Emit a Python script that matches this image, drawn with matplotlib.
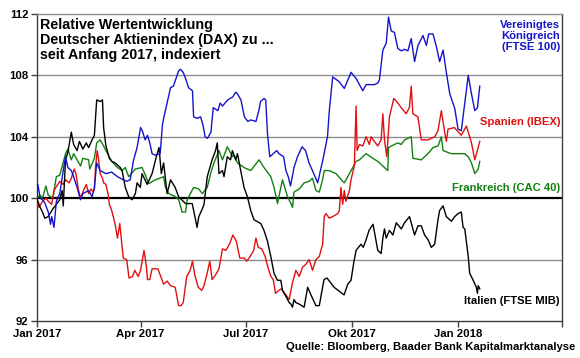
import matplotlib
matplotlib.use("Agg")
import matplotlib.pyplot as plt

plt.rcParams['font.family'] = ['Liberation Sans', 'DejaVu Sans']
plt.rcParams['font.weight'] = 'bold'

# x values: days since 2017-01-01
tick_days = [0, 90, 181, 273, 365, 455]
tick_labels = ["Jan 2017", "Apr 2017", "Jul 2017", "Okt 2017", "Jan 2018", ""]
y_ticks = [92, 96, 100, 104, 108, 112]

uk_days = [0, 1, 3, 5, 7, 10, 12, 13, 15, 17, 20, 23, 25, 27, 30, 32, 35, 38, 40, 45, 48, 50, 52, 55,
           60, 65, 70, 75, 78, 81, 84, 87, 90, 91.5, 94, 96, 98, 100, 103, 107, 109, 110, 116, 118.5,
           123, 124.6, 127, 129, 131.6, 135, 136, 139, 142, 144, 146, 148, 151, 153, 157, 159, 161,
           165.5, 170, 172.4, 174, 177, 180, 183, 185.5, 190, 192.5, 194, 197, 198.5, 200, 202, 205,
           208, 210, 214, 216, 218, 220, 223, 226, 230, 233, 236, 239, 243.5, 248, 252, 253.6, 256.5,
           262, 266.6, 272.4, 276.8, 282.6, 285.5, 292.7, 295.6, 297, 300, 302.9, 304.9, 307.2, 310,
           313, 316, 318.8, 321.7, 324.6, 327.5, 330.4, 334.8, 337.7, 339.7, 343.5, 346.3, 349.2,
           352.2, 355, 358, 362.3, 365.2, 368, 371, 374, 376.8, 379.7, 382, 384]
uk_vals = [100.0, 100.9, 100.0, 99.9, 99.7, 99.1, 98.3, 98.8, 98.1, 99.8, 100.3, 101.8, 102.7, 102.0,
           101.8, 101.4, 100.7, 99.9, 100.3, 100.5, 100.1, 100.7, 102.3, 101.8, 101.6, 101.7, 101.4,
           101.2, 101.1, 101.2, 102.5, 103.3, 104.6, 104.4, 103.8, 104.1, 103.6, 102.9, 102.8, 102.9,
           104.8, 105.2, 107.2, 107.3, 108.3, 108.4, 108.2, 107.8, 107.2, 107.0, 105.3, 105.2, 105.3,
           104.8, 104.0, 103.9, 104.3, 105.9, 105.7, 106.2, 106.0, 106.4, 106.6, 106.9, 106.8, 106.4,
           105.3, 105.0, 105.1, 105.0, 105.7, 106.3, 106.5, 106.4, 104.2, 102.7, 102.9, 103.1, 102.9,
           102.7, 101.8, 101.4, 100.8, 102.0, 102.7, 103.35, 103.1, 102.3, 101.8, 101.0, 102.5, 104.0,
           105.7, 107.9, 107.6, 107.15, 108.2, 107.8, 107.0, 107.4, 107.4, 107.5, 107.7, 109.65, 110.1,
           111.8, 110.9, 110.8, 109.75, 109.6, 109.7, 109.6, 110.4, 108.9, 109.95, 110.6, 109.95,
           110.7, 110.7, 109.9, 108.9, 109.65, 108.2, 106.8, 105.85, 104.5, 104.4, 106.2, 108.0, 106.8,
           105.7, 105.9, 107.3]

es_days = [0, 2, 5, 8, 10, 13, 15, 20, 23, 25, 28, 30, 32.5, 34, 36, 38, 40, 43, 45, 47, 49, 50, 51,
           52.4, 53.5, 55, 57, 58, 60, 62, 63, 65, 68, 70, 72, 75, 78, 80, 83, 85, 88, 90, 93, 95, 96,
           98, 100, 105, 107, 110, 113, 116,
           120, 123, 125, 127, 130, 133, 135, 137, 140, 143, 145, 148, 150, 152, 155, 158, 161, 164,
           167, 170, 173, 176, 180, 182, 185, 188, 190, 192, 195, 198, 200, 203, 205, 207, 210, 212,
           215, 218.8, 221.7, 224.6, 227.5, 230.4, 233.3, 236.2, 239, 242, 244.9, 247.8, 249.2, 250.7,
           253.6, 256.5, 260.9, 262.3, 263.7, 265.2, 266.6, 268, 271, 272.4, 275.3, 276.8, 277.7,
           279.7, 282.6, 285.5, 288.3, 289.8, 292.7, 295.6, 298.5, 300, 301.4, 303.4, 305.7, 309.5,
           313, 315.9, 320.2, 323, 324.6, 326, 330.4, 333.3, 339, 345, 347.8, 350.7, 353.6, 355,
           356.5, 362, 368, 372.4, 376.8, 379.7, 384]
es_vals = [100.0, 99.4, 99.8, 100.0, 99.8, 99.6, 100.5, 101.1, 100.9, 101.2, 101.0, 101.3, 101.9,
           101.6, 100.6, 100.0, 100.4, 100.9, 100.3, 100.6, 100.4, 100.6, 102.0, 103.1, 102.6, 101.6,
           101.3, 101.0, 100.9, 100.2, 99.6, 99.2, 98.3,
           97.4, 98.35, 96.1, 96.0, 94.8, 94.9, 95.3, 94.9, 95.3, 96.6, 95.6, 94.7, 94.7, 95.4, 95.4,
           95.0, 94.4, 94.6, 94.3, 94.2, 93.0, 93.0, 93.2, 94.9, 95.3, 95.9, 95.0, 94.2, 94.0, 94.3,
           95.2, 95.9, 94.7, 95.0, 95.4, 96.7, 96.6, 97.0, 97.6, 97.2, 96.1, 96.1, 95.9, 96.2, 96.6,
           97.4, 96.8, 96.7, 96.2, 95.6, 94.9, 94.7, 93.8, 94.0, 94.1, 93.8, 93.4, 94.5, 95.3, 94.9,
           95.5, 95.7, 96.0, 95.3, 96.0, 96.2, 97.0, 98.8, 99.0, 98.7, 98.8, 99.0, 99.2, 100.7, 99.6,
           100.5, 99.8, 100.5, 101.2, 102.1, 106.0, 103.1, 103.5, 103.4, 104.0, 103.5, 104.0, 103.7,
           103.4, 103.8, 105.5, 103.8, 102.7, 105.3, 106.5, 106.2, 105.9, 105.5, 105.9, 107.3, 105.5,
           105.3, 103.8, 103.8, 104.0, 104.4, 105.7, 104.3, 103.7, 104.5, 104.6, 104.1, 104.7, 103.6,
           102.5, 103.7]

fr_days = [0, 3, 5, 8, 10, 14, 17, 20, 25, 27, 30, 32, 35, 38, 40, 45, 46, 50, 52, 55, 58, 60, 65, 70,
           74, 76.8, 79.7, 85.5, 91.3, 94.2, 97, 102.9, 110, 111.6, 114.4, 120.3, 123, 126, 129, 130.4,
           136, 140.5, 143.5, 147.8, 150.7, 153.6, 158, 161, 165.2, 169.6, 171, 174, 179.7, 185.5,
           192.7, 197, 202.9, 205.7, 208.7, 213, 217.4, 220.3, 221.7, 223, 227.5, 231.8, 236.2, 239,
           242, 244.9, 247.8, 249.2, 253.6, 259.4, 265.2, 266.6, 271, 274, 276.8, 279.7, 282.6, 285.5,
           291.3, 295.6, 301.4, 304.3, 304.9, 310, 313, 316, 318.8, 324.6, 326, 333.3, 339.1, 343.5,
           347.8, 350.7, 352.2, 359.4, 371, 374, 376.8, 379.7, 382.6, 384]
fr_vals = [100.0, 100.2, 100.0, 100.8, 100.2, 100.0, 101.4, 101.5, 102.9, 103.2, 102.5, 102.9, 102.5,
           102.1, 102.6, 102.5, 101.9, 102.6, 103.6, 103.8, 103.4, 103.1, 102.4, 102.0, 101.8, 102.0,
           101.4, 101.9, 102.0, 101.5, 100.95, 101.2, 101.4, 100.7, 100.3, 100.1, 99.9, 99.1, 99.1,
           99.9, 100.7, 100.6, 100.3, 100.7, 101.6, 102.3, 103.1, 102.5, 103.35, 102.7, 102.8, 102.3,
           102.0, 101.8, 102.5, 102.0, 101.4, 100.7, 99.65, 101.2, 100.1, 99.65, 99.4, 100.4, 100.6,
           101.0, 101.1, 101.3, 100.5, 100.4, 101.2, 101.8, 101.8, 101.6, 101.1, 101.0, 101.6, 102.0,
           102.4, 102.5, 102.7, 102.9, 102.6, 102.4, 102.0, 101.8, 103.3, 103.5, 103.6, 103.5, 103.8,
           104.0, 102.6, 102.5, 102.9, 103.3, 103.4, 104.0, 103.1, 102.9, 102.9, 102.7, 102.3, 101.6,
           101.9, 102.4]

it_days = [0, 3, 5, 7, 10, 14, 17, 20, 22, 23, 25, 27, 30, 32, 35, 37, 40, 43, 45, 48, 50, 52, 55, 57,
           58, 60, 63, 65, 68, 72.4, 74, 76.8, 79.7, 82.6, 85.5, 87, 89.8, 91.3, 95.7, 100, 104,
           106, 108, 110, 113, 116, 120, 123, 129, 134.8, 136, 139, 140.5, 143.5, 145, 147.8, 152,
           155, 156.5, 158, 161, 162.3, 165.2, 168, 169.6, 172.4, 174, 176.8, 179.7, 182.6, 185.5,
           188.3, 194.2, 197, 200, 202.9, 205.7, 208.7, 211.6, 213, 216, 218.8, 220.3, 221.7, 223,
           224.6, 227.5, 231.8, 234.8, 237.7, 242, 244.9, 249, 251.6, 257.7, 266.4, 269.6, 272.4, 275,
           276.8, 281, 283, 285.5, 288, 291.5, 292.7, 295.6, 298.5, 300, 301.4, 302.9, 305.7, 308.7,
           311.6, 316, 318.8, 323.1, 327.5, 330.4, 333.3, 336.2, 339.1, 342, 344.9, 347.8, 349.2,
           352.2, 355, 359.4, 362.3, 365.2, 368, 369.5, 371, 374, 375.3, 378.3, 381, 382, 382.6, 384]
it_vals = [100.0, 99.4, 99.1, 98.7, 98.8, 99.3, 99.6, 99.9, 100.5, 99.5, 102.5, 103.0, 104.3, 103.5,
           103.1, 103.7, 103.2, 103.6, 103.3, 103.8, 104.1, 106.4, 106.3, 106.4, 104.6, 103.4, 102.6,
           102.4, 102.3, 102.0, 101.8, 100.7, 100.1, 99.9, 100.3, 101.0, 100.7, 101.6, 100.9, 101.6,
           102.8, 103.3, 101.6, 102.3, 100.3, 101.2, 100.7, 100.1, 99.65, 99.65, 99.2, 98.1, 98.8, 99.3,
           99.6, 101.4, 102.5, 103.1, 103.6, 101.6, 101.8, 101.4, 102.7, 102.5, 103.1, 102.5, 102.9,
           101.8, 100.7, 100.1, 99.2, 98.6, 98.35, 97.9, 97.2, 96.2, 95.1, 94.65, 94.65, 94.0, 93.6,
           93.2, 93.1, 92.9, 93.4, 93.2, 93.1, 92.9, 94.2, 93.7, 93.0, 93.0, 94.7, 94.8, 94.2, 93.7,
           94.4, 94.65, 95.9, 96.6, 97.0, 96.8, 97.3, 97.9, 98.3, 97.8, 96.6, 96.4, 97.4, 98.0, 97.4,
           97.9, 97.6, 98.4, 98.0, 98.4, 98.8, 97.6, 98.2, 98.2, 97.6, 97.3, 96.8, 97.0, 98.6, 99.2,
           99.5, 98.8, 98.5, 98.8, 99.0, 99.1, 98.1, 98.0, 96.2, 95.1, 94.65, 94.2, 93.8, 94.3, 94.1]

series = [
    (uk_days, uk_vals, "#1414C8", "Vereinigtes\nKönigreich\n(FTSE 100)"),
    (es_days, es_vals, "#E01010", "Spanien (IBEX)"),
    (fr_days, fr_vals, "#118011", "Frankreich (CAC 40)"),
    (it_days, it_vals, "#000000", "Italien (FTSE MIB)"),
]
label_y_px = [36, 122, 188, 301]

W, H = 580, 358
fig = plt.figure(figsize=(W / 100, H / 100), dpi=100)
ax = fig.add_axes([36.7 / W, 1 - 321 / H, 525 / W, 307 / H])

for yv in [96, 104, 108]:
    ax.axhline(yv, color="#8c8c8c", lw=1.0, zorder=1)
ax.axhline(100, color="black", lw=1.6, zorder=2)

ax.plot(fr_days, fr_vals, color="#118011", lw=1.0, zorder=3)
ax.plot(es_days, es_vals, color="#E01010", lw=1.0, zorder=4)
ax.plot(it_days, it_vals, color="#000000", lw=1.0, zorder=5)
ax.plot(uk_days, uk_vals, color="#1414C8", lw=1.0, zorder=6)

ax.set_xlim(tick_days[0], tick_days[-1])
ax.set_ylim(y_ticks[0], y_ticks[-1])
ax.set_xticks(tick_days)
ax.set_xticklabels(tick_labels, fontsize=8.2, fontweight='bold')
ax.set_yticks(y_ticks)
ax.set_yticklabels([str(v) for v in y_ticks], fontsize=8.2, fontweight='bold')
ax.tick_params(axis='both', direction='out', length=4, width=1, color="#404040", pad=2)
for side in ['left', 'bottom', 'right']:
    ax.spines[side].set_color("#404040")
    ax.spines[side].set_linewidth(1.0)
ax.spines['top'].set_color("#8c8c8c")
ax.spines['top'].set_linewidth(1.0)

fig.text(40 / W, 1 - 18 / H,
         "Relative Wertentwicklung\nDeutscher Aktienindex (DAX) zu ...\nseit Anfang 2017, indexiert",
         ha='left', va='top', fontsize=10.3, fontweight='bold', linespacing=1.08)

for (d, v, c, lab), ypx in zip(series, label_y_px):
    fig.text(560 / W, 1 - ypx / H, lab, ha='right', va='center', fontsize=8.1,
             fontweight='bold', color=c, linespacing=1.15)

fig.text(575 / W, 1 - 347 / H, "Quelle: Bloomberg, Baader Bank Kapitalmarktanalyse",
         ha='right', va='center', fontsize=8.1, fontweight='bold')

fig.savefig("out.png", dpi=100)
